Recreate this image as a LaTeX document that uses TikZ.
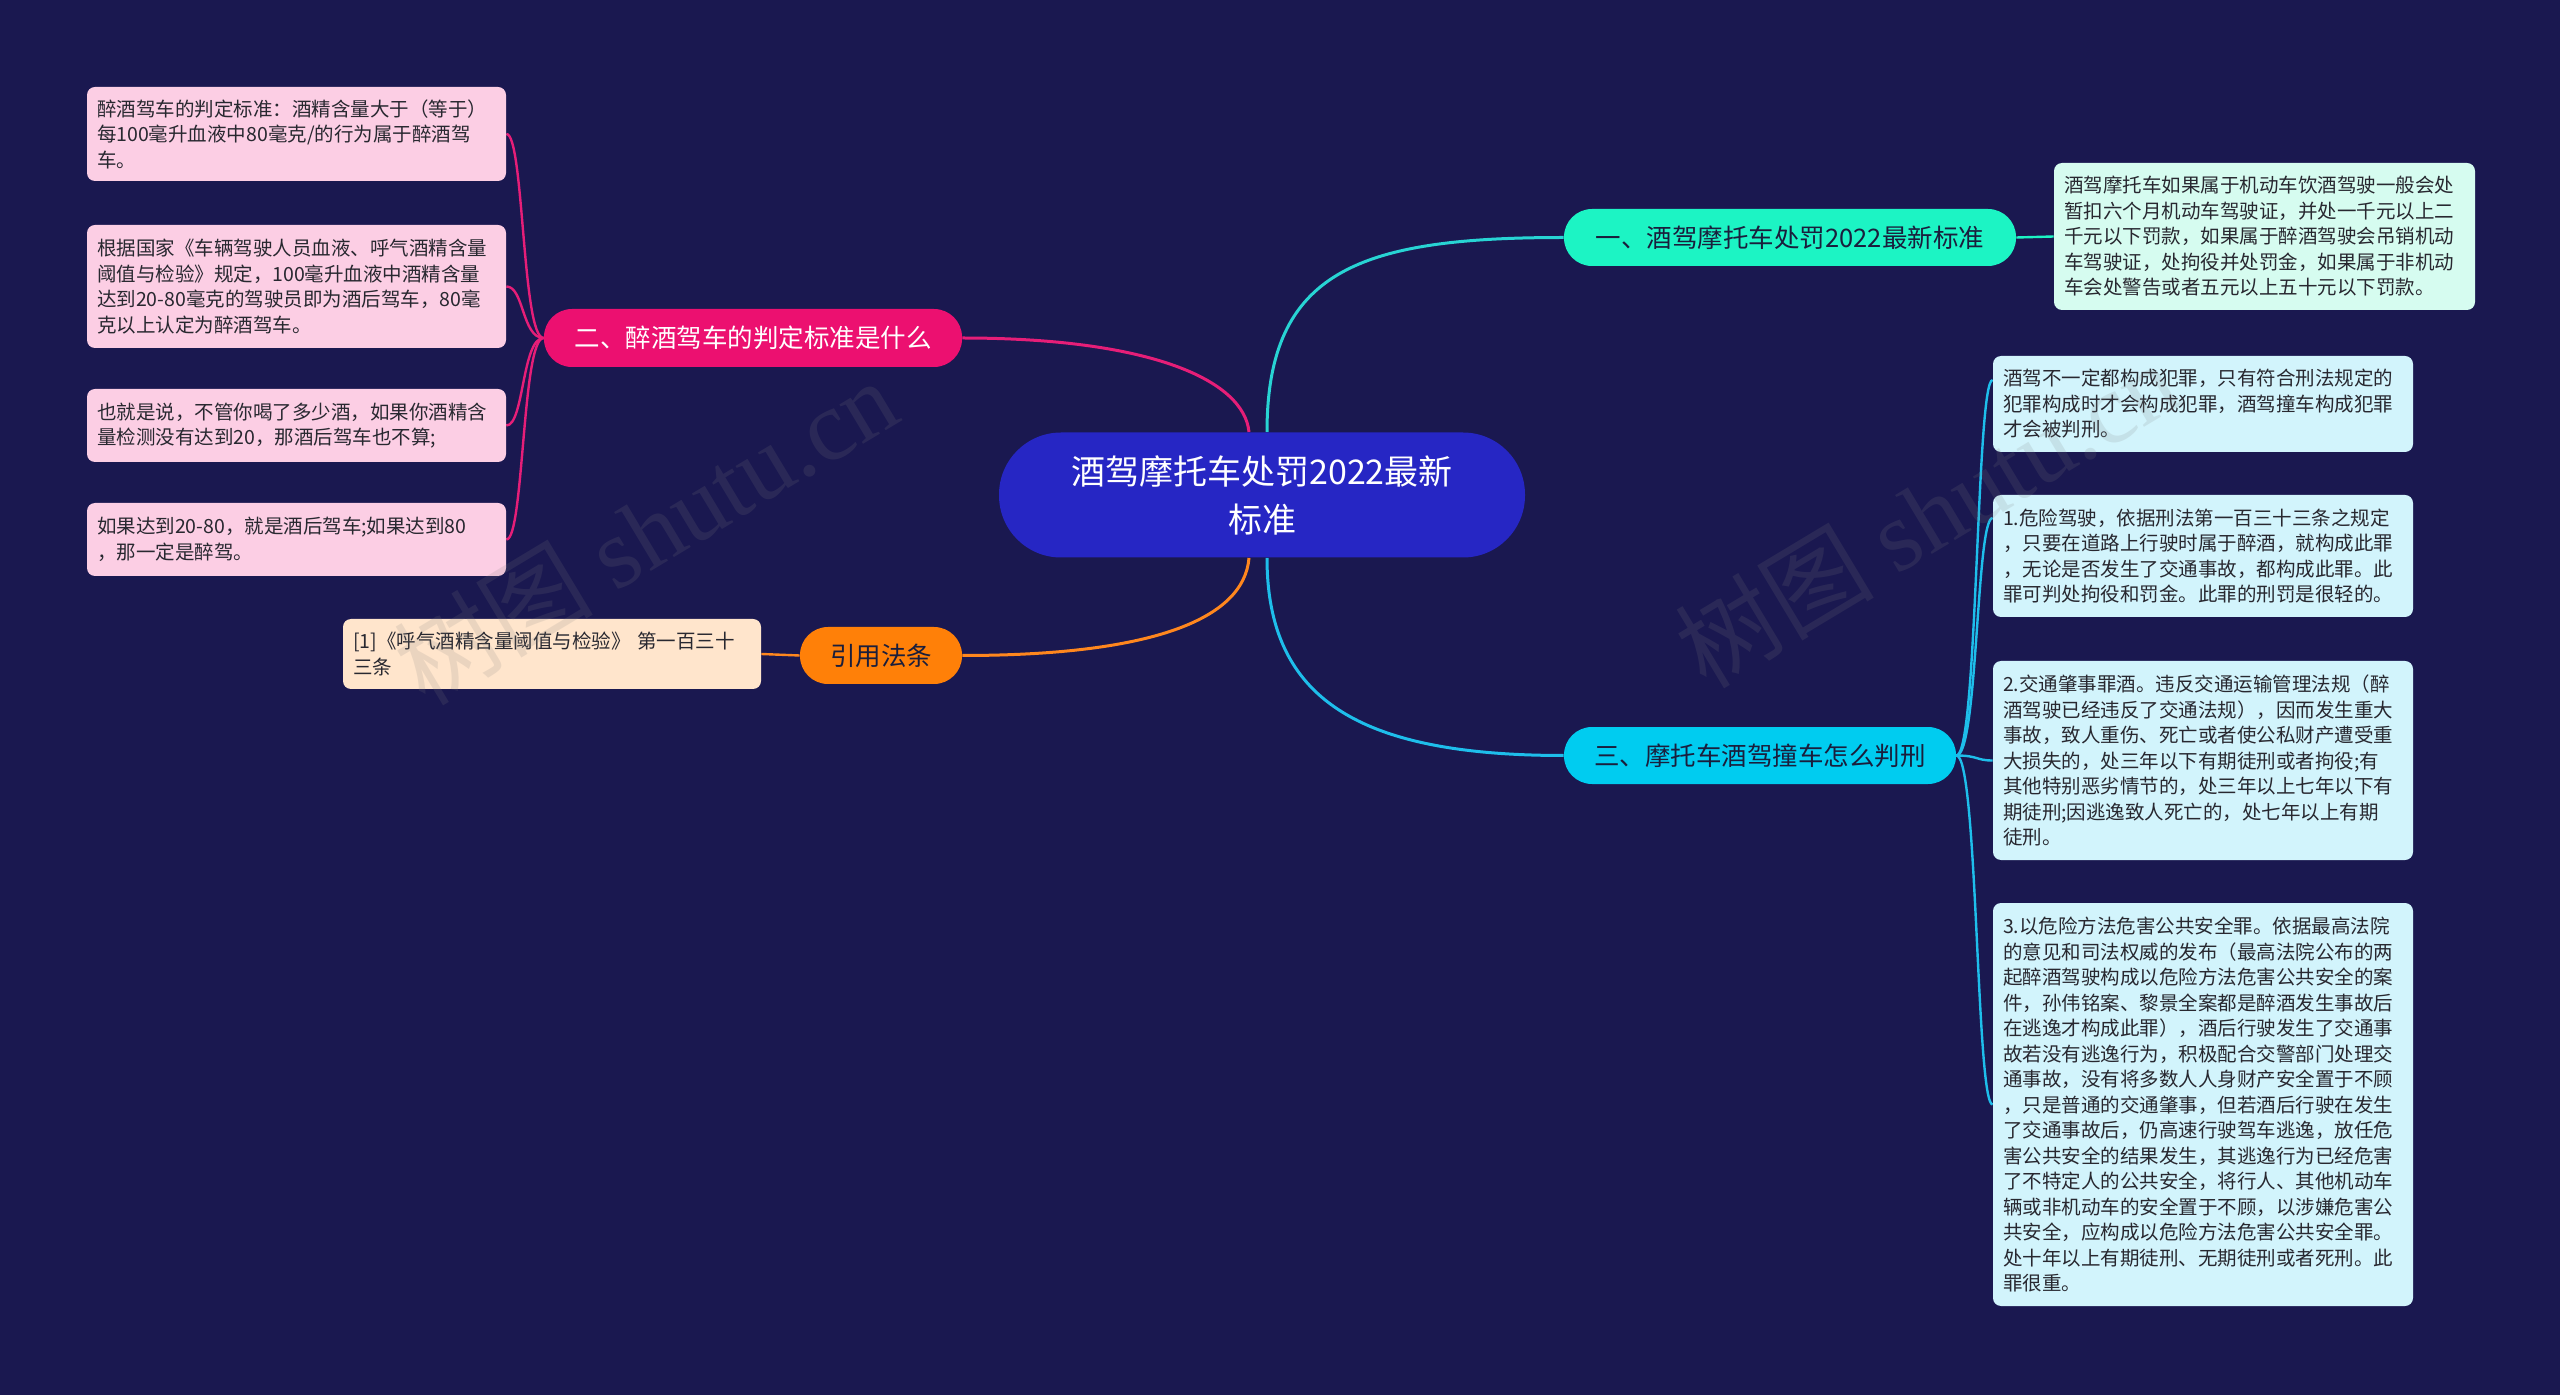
\documentclass[tikz,border=0pt]{standalone}
\usepackage{fontspec}
\setmainfont{Noto Sans CJK SC}
\newfontfamily\wmlatin{Liberation Serif}
\usetikzlibrary{calc}
\definecolor{bgc}{RGB}{26,24,80}
\definecolor{centerc}{RGB}{38,38,196}
\definecolor{bonefill}{RGB}{28,244,196}
\definecolor{bthreefill}{RGB}{0,204,240}
\definecolor{btwofill}{RGB}{236,16,112}
\definecolor{bfourfill}{RGB}{255,128,8}
\definecolor{pinkleaf}{RGB}{252,206,228}
\definecolor{peachleaf}{RGB}{255,229,204}
\definecolor{mintleaf}{RGB}{214,252,240}
\definecolor{cyanleaf}{RGB}{210,244,252}
\definecolor{leaftxt}{RGB}{40,40,48}
\definecolor{darktxt}{RGB}{26,30,60}
\definecolor{lineone}{RGB}{40,212,212}
\definecolor{linethree}{RGB}{30,190,235}
\definecolor{linepink}{RGB}{230,30,120}
\definecolor{lineorange}{RGB}{255,135,30}
\pgfdeclarelayer{bglayer}
\pgfdeclarelayer{edgelayer}
\pgfsetlayers{bglayer,edgelayer,main}
\begin{document}
\begin{tikzpicture}[x=0.5pt,y=-0.5pt,
  leaf/.style={rectangle, rounded corners=4pt, inner xsep=5pt, inner ysep=0pt, align=left,
    font=\fontsize{9.75pt}{12.75pt}\selectfont, text=leaftxt},
  pill/.style={rectangle, rounded corners=14pt, inner xsep=0pt, inner ysep=0pt,
    minimum height=28.5pt, font=\fontsize{12.75pt}{15pt}\selectfont},
  link/.style={line width=1.5pt},
  sublink/.style={line width=1.2pt},
  wmark/.style={text=gray, opacity=0.16, rotate=31, font=\fontsize{50pt}{50pt}\selectfont}]
\begin{pgfonlayer}{bglayer}
\fill[bgc] (0,0) rectangle (2560,1395);
\end{pgfonlayer}
\useasboundingbox (0,0) rectangle (2560,1395);

% central node
\node[rectangle, rounded corners=31pt, fill=centerc, text=white, minimum width=263pt,
  minimum height=62.5pt, align=center, font=\fontsize{17pt}{24pt}\selectfont]
  (c) at (1262,495) {酒驾摩托车处罚2022最新\\标准};

% branches
\node[pill, fill=bonefill, text=darktxt, minimum width=226pt] (b1) at (1790,237.5) {一、酒驾摩托车处罚2022最新标准};
\node[pill, fill=bthreefill, text=darktxt, minimum width=196pt] (b3) at (1760,755.5) {三、摩托车酒驾撞车怎么判刑};
\node[pill, fill=btwofill, text=white, minimum width=209pt, minimum height=29pt] (b2) at (753,338) {二、醉酒驾车的判定标准是什么};
\node[pill, fill=bfourfill, text=darktxt, minimum width=81pt] (b4) at (881,655.5) {引用法条};

% left leaves
\node[leaf, fill=pinkleaf, text width=199.5pt, minimum height=47pt] (p1) at (296.5,134)
  {醉酒驾车的判定标准：酒精含量大于（等于）\\每100毫升血液中80毫克/的行为属于醉酒驾\\车。};
\node[leaf, fill=pinkleaf, text width=199.5pt, minimum height=61.5pt] (p2) at (296.5,286.5)
  {根据国家《车辆驾驶人员血液、呼气酒精含量\\阈值与检验》规定，100毫升血液中酒精含量\\达到20-80毫克的驾驶员即为酒后驾车，80毫\\克以上认定为醉酒驾车。};
\node[leaf, fill=pinkleaf, text width=199.5pt, minimum height=36.5pt] (p3) at (296.5,425.5)
  {也就是说，不管你喝了多少酒，如果你酒精含\\量检测没有达到20，那酒后驾车也不算;};
\node[leaf, fill=pinkleaf, text width=199.5pt, minimum height=36.5pt] (p4) at (296.5,539.5)
  {如果达到20-80，就是酒后驾车;如果达到80\\，那一定是醉驾。};
\node[leaf, fill=peachleaf, text width=199pt, minimum height=35pt] (lref) at (552,654)
  {[1]《呼气酒精含量阈值与检验》 第一百三十\\三条};

% right leaves
\node[leaf, fill=mintleaf, text width=200.5pt, minimum height=73.5pt] (l1) at (2264.5,236.5)
  {酒驾摩托车如果属于机动车饮酒驾驶一般会处\\暂扣六个月机动车驾驶证，并处一千元以上二\\千元以下罚款，如果属于醉酒驾驶会吊销机动\\车驾驶证，处拘役并处罚金，如果属于非机动\\车会处警告或者五元以上五十元以下罚款。};
\node[leaf, fill=cyanleaf, text width=200pt, minimum height=48pt] (l3a) at (2203,404)
  {酒驾不一定都构成犯罪，只有符合刑法规定的\\犯罪构成时才会构成犯罪，酒驾撞车构成犯罪\\才会被判刑。};
\node[leaf, fill=cyanleaf, text width=200pt, minimum height=61pt] (l3b) at (2203,556)
  {1.危险驾驶，依据刑法第一百三十三条之规定\\，只要在道路上行驶时属于醉酒，就构成此罪\\，无论是否发生了交通事故，都构成此罪。此\\罪可判处拘役和罚金。此罪的刑罚是很轻的。};
\node[leaf, fill=cyanleaf, text width=200pt, minimum height=99.5pt] (l3c) at (2203,760.5)
  {2.交通肇事罪酒。违反交通运输管理法规（醉\\酒驾驶已经违反了交通法规），因而发生重大\\事故，致人重伤、死亡或者使公私财产遭受重\\大损失的，处三年以下有期徒刑或者拘役;有\\其他特别恶劣情节的，处三年以上七年以下有\\期徒刑;因逃逸致人死亡的，处七年以上有期\\徒刑。};
\node[leaf, fill=cyanleaf, text width=200pt, minimum height=201.5pt] (l3d) at (2203,1104.5)
  {3.以危险方法危害公共安全罪。依据最高法院\\的意见和司法权威的发布（最高法院公布的两\\起醉酒驾驶构成以危险方法危害公共安全的案\\件，孙伟铭案、黎景全案都是醉酒发生事故后\\在逃逸才构成此罪），酒后行驶发生了交通事\\故若没有逃逸行为，积极配合交警部门处理交\\通事故，没有将多数人人身财产安全置于不顾\\，只是普通的交通肇事，但若酒后行驶在发生\\了交通事故后，仍高速行驶驾车逃逸，放任危\\害公共安全的结果发生，其逃逸行为已经危害\\了不特定人的公共安全，将行人、其他机动车\\辆或非机动车的安全置于不顾，以涉嫌危害公\\共安全，应构成以危险方法危害公共安全罪。\\处十年以上有期徒刑、无期徒刑或者死刑。此\\罪很重。};

% connectors
\begin{pgfonlayer}{edgelayer}
\draw[link, draw=lineone] ($(c.north)+(5,0)$) .. controls (1267,270) and (1360,237.5) .. (b1.west);
\draw[link, draw=linepink] ($(c.north)+(-13,0)$) .. controls (1244,380) and (1150,338) .. (b2.east);
\draw[link, draw=linethree] ($(c.south)+(5,0)$) .. controls (1267,700) and (1360,755.5) .. (b3.west);
\draw[link, draw=lineorange] ($(c.south)+(-13,0)$) .. controls (1244,620) and (1150,655.5) .. (b4.east);

\draw[sublink, draw=bonefill] (b1.east) .. controls (2035,237.5) and (2035,236.5) .. (l1.west);
\draw[sublink, draw=lineorange] (b4.west) .. controls (780,655.5) and (780,654) .. (lref.east);

\draw[sublink, draw=linethree] (b3.east) .. controls (1978,755.5) and (1976,380) .. ($(l3a.west)+(0,-24)$);
\draw[sublink, draw=linethree] (b3.east) .. controls (1978,755.5) and (1976,518) .. ($(l3b.west)+(0,-38)$);
\draw[sublink, draw=linethree] (b3.east) .. controls (1978,755.5) and (1976,760.5) .. (l3c.west);
\draw[sublink, draw=linethree] (b3.east) .. controls (1978,755.5) and (1976,1104.5) .. (l3d.west);

\draw[sublink, draw=linepink] (b2.west) .. controls (522,338) and (524,134) .. (p1.east);
\draw[sublink, draw=linepink] (b2.west) .. controls (522,338) and (524,286.5) .. (p2.east);
\draw[sublink, draw=linepink] (b2.west) .. controls (522,338) and (524,425.5) .. (p3.east);
\draw[sublink, draw=linepink] (b2.west) .. controls (522,338) and (524,539.5) .. (p4.east);
\end{pgfonlayer}

% watermarks
\node[wmark] (wm1) at (645,531) {树图 {\wmlatin shutu.cn}};
\node[wmark] (wm2) at (1926,514) {树图 {\wmlatin shutu.cn}};
\end{tikzpicture}
\end{document}
